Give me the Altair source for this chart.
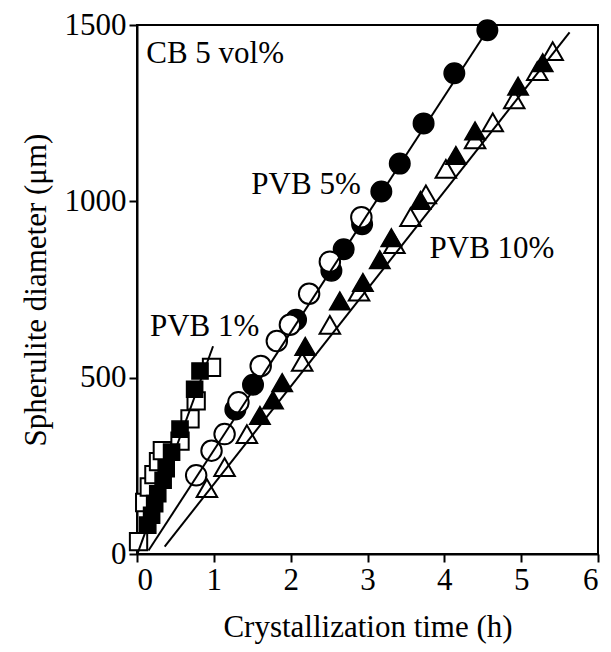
import altair as alt
import pandas as pd

# PVB 5% (circles)
c5_fill_x = [1.28, 1.51, 2.07, 2.53, 2.69, 2.93, 3.18, 3.42, 3.73, 4.13, 4.56]
c5_fill_y = [410, 480, 664, 803, 864, 935, 1028, 1107, 1221, 1363, 1485]
c5_open_x = [0.77, 0.97, 1.14, 1.32, 1.61, 1.82, 1.99, 2.24, 2.51, 2.92]
c5_open_y = [223, 293, 340, 430, 533, 604, 650, 738, 829, 955]

# PVB 10% (triangles)
t10_fill_x = [1.60, 1.77, 1.89, 2.19, 2.64, 2.94, 3.16, 3.31, 3.69, 4.15, 4.40, 4.96, 5.28]
t10_fill_y = [393, 437, 486, 589, 718, 770, 835, 897, 1003, 1130, 1200, 1327, 1393]
t10_open_x = [0.91, 1.14, 1.43, 2.15, 2.51, 2.89, 3.35, 3.56, 3.76, 4.02, 4.40, 4.63, 4.91, 5.21, 5.41]
t10_open_y = [187, 246, 340, 545, 650, 744, 879, 955, 1020, 1092, 1176, 1224, 1289, 1369, 1426]

# PVB 1% (squares)
s1_fill_x = [0.14, 0.19, 0.23, 0.27, 0.34, 0.38, 0.45, 0.56, 0.75, 0.82]
s1_fill_y = [82, 110, 143, 171, 209, 242, 289, 354, 467, 519]
s1_open_x = [0.02, 0.10, 0.16, 0.22, 0.28, 0.33, 0.56, 0.69, 0.77, 0.97]
s1_open_y = [35, 146, 190, 225, 262, 293, 320, 383, 434, 529]

# fitted lines (endpoints)
line_group = ["PVB 1%", "PVB 1%", "PVB 5%", "PVB 5%", "PVB 10%", "PVB 10%"]
line_x = [0.01, 0.99, 0.15, 4.56, 0.36, 5.63]
line_y = [3, 589, 10, 1485, 21, 1479]

# annotations
ann_text = ["CB 5 vol%", "PVB 5%", "PVB 10%", "PVB 1%"]
ann_x = [0.12, 2.20, 4.62, 0.88]
ann_y = [1418, 1046, 866, 645]
ann_align = ["left", "center", "center", "center"]

FONT = "Liberation Serif"
FS = 31

xs = alt.X("x:Q", scale=alt.Scale(domain=[0, 6], nice=False),
           axis=alt.Axis(values=[0, 1, 2, 3, 4, 5, 6], format="d",
                         title="Crystallization time (h)", titlePadding=17))
ys = alt.Y("y:Q", scale=alt.Scale(domain=[0, 1500], nice=False),
           axis=alt.Axis(values=[0, 500, 1000, 1500], format="d",
                         title="Spherulite diameter (μm)", titlePadding=12))


def pts(xv, yv, shape, filled, size):
    df = pd.DataFrame({"x": xv, "y": yv})
    if filled:
        m = alt.Chart(df).mark_point(shape=shape, filled=True, fill="black",
                                     stroke="black", strokeWidth=1.5, size=size, opacity=1)
    else:
        m = alt.Chart(df).mark_point(shape=shape, filled=True, fill="white",
                                     stroke="black", strokeWidth=2, size=size, opacity=1)
    return m.encode(x=xs, y=ys)


lines_df = pd.DataFrame({"g": line_group, "x": line_x, "y": line_y})
lines = alt.Chart(lines_df).mark_line(color="black", strokeWidth=2).encode(
    x=xs, y=ys, detail="g:N")

ann_df = pd.DataFrame({"t": ann_text, "x": ann_x, "y": ann_y, "a": ann_align})
ann_left = alt.Chart(ann_df[ann_df.a == "left"]).mark_text(
    font=FONT, fontSize=FS, align="left", baseline="middle", color="black").encode(
    x=xs, y=ys, text="t:N")
ann_center = alt.Chart(ann_df[ann_df.a == "center"]).mark_text(
    font=FONT, fontSize=FS, align="center", baseline="middle", color="black").encode(
    x=xs, y=ys, text="t:N")

chart = alt.layer(
    pts(t10_open_x, t10_open_y, "triangle-up", False, 420),
    pts(t10_fill_x, t10_fill_y, "triangle-up", True, 420),
    pts(c5_fill_x, c5_fill_y, "circle", True, 420),
    pts(c5_open_x, c5_open_y, "circle", False, 420),
    pts(s1_open_x, s1_open_y, "square", False, 300),
    pts(s1_fill_x, s1_fill_y, "square", True, 260),
    lines,
    ann_left,
    ann_center,
).properties(
    width=461, height=529,
    autosize=alt.AutoSizeParams(type="none"),
    padding={"left": 129, "top": 17, "right": 5, "bottom": 90},
).configure_view(
    stroke="black", strokeWidth=2
).configure_axis(
    grid=False, domainColor="black", domainWidth=2, tickColor="black", tickWidth=2,
    tickSize=8, labelFont=FONT, titleFont=FONT, labelFontSize=FS, titleFontSize=FS,
    labelColor="black", titleColor="black", titleFontWeight="normal", labelPadding=3
)

chart.save("out.html", embed_options={"renderer": "svg", "actions": False})
